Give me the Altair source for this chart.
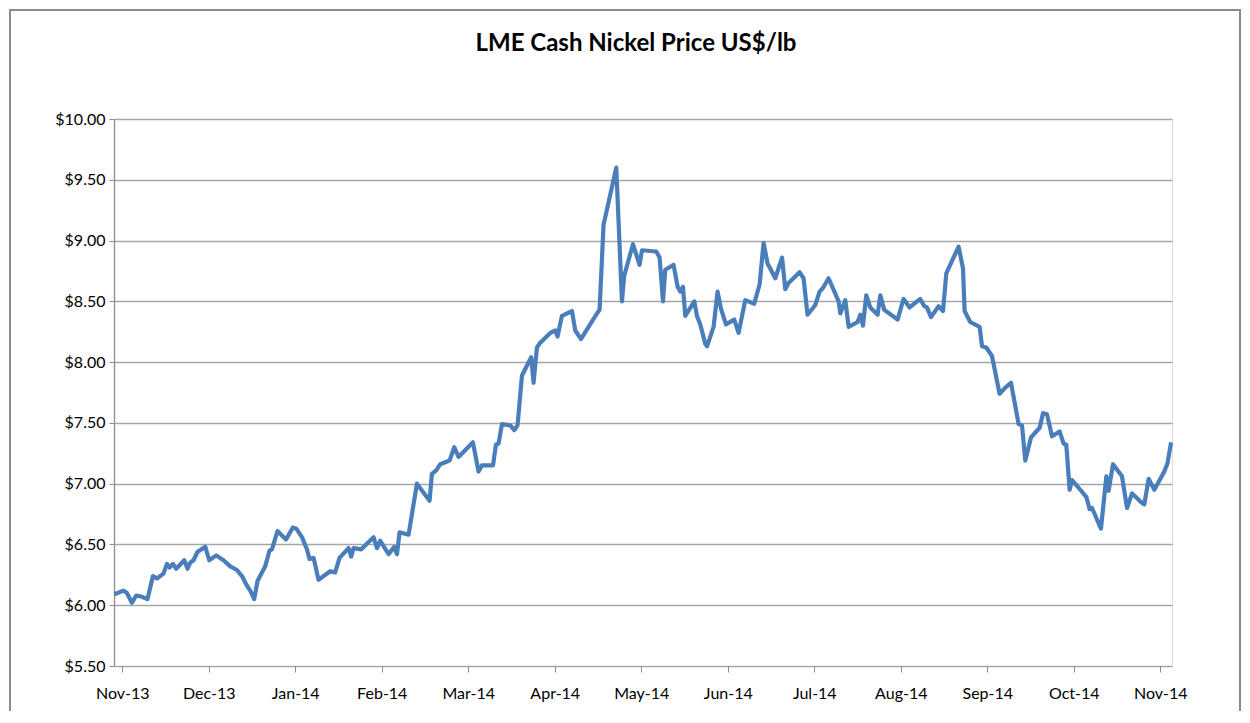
import altair as alt
import pandas as pd

months = ["Nov-13", "Dec-13", "Jan-14", "Feb-14", "Mar-14", "Apr-14", "May-14",
          "Jun-14", "Jul-14", "Aug-14", "Sep-14", "Oct-14", "Nov-14"]

# position in months after the start of Nov-13
month_pos = [
    -0.09, 0.015, 0.054, 0.112, 0.162, 0.228, 0.292, 0.355, 0.401, 0.477, 0.517, 0.547,
    0.586, 0.624, 0.717, 0.755, 0.786, 0.824, 0.871, 0.960, 1.006, 1.087, 1.171, 1.249,
    1.326, 1.384, 1.442, 1.480, 1.526, 1.564, 1.653, 1.703, 1.731, 1.795, 1.892, 1.973,
    2.012, 2.077, 2.135, 2.165, 2.212, 2.269, 2.405, 2.462, 2.512, 2.616, 2.647, 2.674,
    2.763, 2.905, 2.945, 2.983, 3.079, 3.145, 3.176, 3.206, 3.310, 3.407, 3.553, 3.580,
    3.630, 3.676, 3.784, 3.838, 3.888, 4.054, 4.119, 4.158, 4.286, 4.320, 4.350, 4.390,
    4.486, 4.532, 4.570, 4.621, 4.728, 4.755, 4.794, 4.832, 4.948, 5.006, 5.032, 5.083,
    5.199, 5.237, 5.303, 5.488, 5.518, 5.564, 5.711, 5.777, 5.803, 5.904, 5.980, 6.008,
    6.173, 6.212, 6.251, 6.277, 6.373, 6.420, 6.451, 6.482, 6.509, 6.613, 6.644, 6.682,
    6.740, 6.760, 6.836, 6.882, 6.921, 6.979, 7.075, 7.125, 7.202, 7.306, 7.368, 7.414,
    7.460, 7.491, 7.549, 7.627, 7.665, 7.703, 7.830, 7.876, 7.922, 8.012, 8.061, 8.100,
    8.165, 8.281, 8.301, 8.358, 8.397, 8.501, 8.532, 8.563, 8.601, 8.647, 8.732, 8.763,
    8.809, 8.963, 9.032, 9.102, 9.225, 9.272, 9.303, 9.349, 9.437, 9.488, 9.526, 9.668,
    9.719, 9.738, 9.803, 9.911, 9.939, 9.988, 10.054, 10.142, 10.208, 10.274, 10.362, 10.401,
    10.439, 10.505, 10.605, 10.644, 10.690, 10.748, 10.836, 10.882, 10.913, 10.952, 10.979, 11.075,
    11.145, 11.183, 11.210, 11.314, 11.376, 11.402, 11.453, 11.557, 11.615, 11.673, 11.789, 11.815,
    11.865, 11.931, 12.046, 12.084, 12.124,
]

price = [
    6.09, 6.12, 6.10, 6.02, 6.08, 6.07, 6.05, 6.24, 6.22, 6.26, 6.34, 6.31,
    6.34, 6.30, 6.37, 6.30, 6.35, 6.37, 6.44, 6.48, 6.37, 6.41, 6.37, 6.32,
    6.29, 6.24, 6.16, 6.12, 6.05, 6.20, 6.32, 6.45, 6.46, 6.61, 6.54, 6.64,
    6.63, 6.56, 6.46, 6.38, 6.39, 6.21, 6.28, 6.27, 6.39, 6.47, 6.40, 6.47,
    6.46, 6.56, 6.47, 6.53, 6.42, 6.48, 6.42, 6.60, 6.58, 7.00, 6.86, 7.08,
    7.11, 7.16, 7.19, 7.30, 7.22, 7.34, 7.10, 7.15, 7.15, 7.32, 7.33, 7.49,
    7.48, 7.44, 7.48, 7.89, 8.04, 7.83, 8.12, 8.16, 8.24, 8.26, 8.21, 8.38,
    8.42, 8.26, 8.19, 8.40, 8.43, 9.13, 9.60, 8.50, 8.71, 8.97, 8.80, 8.92,
    8.91, 8.86, 8.50, 8.76, 8.80, 8.62, 8.58, 8.62, 8.38, 8.50, 8.38, 8.31,
    8.15, 8.13, 8.29, 8.58, 8.44, 8.31, 8.35, 8.24, 8.51, 8.48, 8.64, 8.98,
    8.81, 8.77, 8.69, 8.86, 8.60, 8.65, 8.74, 8.69, 8.39, 8.47, 8.58, 8.61,
    8.69, 8.50, 8.40, 8.51, 8.29, 8.33, 8.39, 8.30, 8.55, 8.45, 8.39, 8.55,
    8.43, 8.35, 8.52, 8.45, 8.52, 8.46, 8.45, 8.37, 8.46, 8.42, 8.73, 8.95,
    8.77, 8.42, 8.33, 8.29, 8.13, 8.12, 8.05, 7.74, 7.79, 7.83, 7.49, 7.48,
    7.19, 7.38, 7.46, 7.58, 7.57, 7.39, 7.43, 7.33, 7.32, 6.95, 7.03, 6.95,
    6.89, 6.79, 6.80, 6.63, 7.06, 6.94, 7.16, 7.06, 6.80, 6.92, 6.84, 6.83,
    7.04, 6.95, 7.10, 7.17, 7.34,
]

y_ticks = [5.5, 6.0, 6.5, 7.0, 7.5, 8.0, 8.5, 9.0, 9.5, 10.0]

df = pd.DataFrame({"m": month_pos, "price": price})

FONT = "Lato"
label_expr = "[" + ",".join("'" + s + "'" for s in months) + "][datum.value]"

line = alt.Chart(df).mark_line(color="#4a7ebb", strokeWidth=4.2, strokeJoin="round").encode(
    x=alt.X("m:Q",
            scale=alt.Scale(domain=[-0.095, 12.135], nice=False, zero=False),
            axis=alt.Axis(values=list(range(13)), labelExpr=label_expr, title=None,
                          grid=False, domain=False, ticks=True, tickSize=6,
                          tickColor="#8c8c8c", tickWidth=1, labelPadding=13,
                          labelFont=FONT, labelFontSize=16, labelColor="#000000")),
    y=alt.Y("price:Q",
            scale=alt.Scale(domain=[5.5, 10.0], nice=False, zero=False),
            axis=alt.Axis(values=y_ticks, format="$.2f", title=None,
                          grid=True, gridColor="#a6a6a6", gridWidth=1.3,
                          domain=True, domainColor="#8c8c8c", domainWidth=1.3,
                          ticks=True, tickSize=5, tickColor="#8c8c8c",
                          labelPadding=4, labelFont=FONT, labelFontSize=16,
                          labelColor="#000000")),
)

frame = alt.Chart(pd.DataFrame({"k": [0]})).mark_rect(
    fill=None, stroke="#8c8c8c", strokeWidth=2
).encode(
    x=alt.value(-104), x2=alt.value(1126), y=alt.value(-109), y2=alt.value(640)
)

chart = alt.layer(frame, line).properties(
    width=1058,
    height=547,
    title=alt.TitleParams("LME Cash Nickel Price US$/lb", font=FONT, fontSize=24,
                          fontWeight="bold", color="#000000", offset=0,
                          baseline="bottom", anchor="middle", dx=-7, dy=71),
    padding={"left": 106, "top": 111, "right": 70, "bottom": 45},
    autosize=alt.AutoSizeParams(type="none"),
).configure_view(stroke=None).configure(background="white")

chart.save("out.html", embed_options={"renderer": "svg", "actions": False})
